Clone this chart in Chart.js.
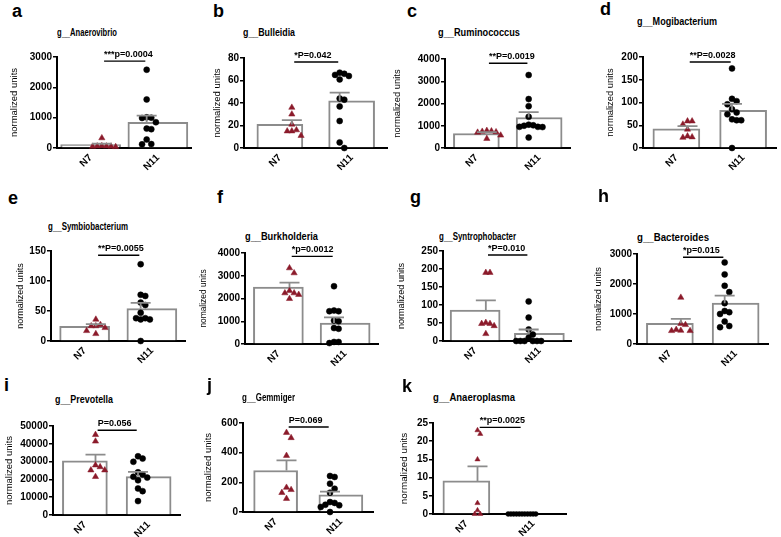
<!DOCTYPE html>
<html><head><meta charset="utf-8">
<script src="https://cdn.jsdelivr.net/npm/chart.js@4.4.0/dist/chart.umd.min.js"></script>
<style>
html,body{margin:0;padding:0;background:#fff;}
body{width:781px;height:537px;position:relative;overflow:hidden;font-family:"Liberation Sans",Arial,sans-serif;}
canvas{position:absolute;}
.lt{position:absolute;font-weight:bold;line-height:1;color:#000;white-space:nowrap;transform-origin:0 0;}
</style></head><body>
<script>
// ---------------- DATA ----------------
const groups = ['N7', 'N11'];
const panelLetters = ['a','b','c','d','e','f','g','h','i','j','k'];
const genusTitles = ['g__Anaerovibrio','g__Bulleidia','g__Ruminococcus','g__Mogibacterium','g__Symbiobacterium','g__Burkholderia','g__Syntrophobacter','g__Bacteroides','g__Prevotella','g__Gemmiger','g__Anaeroplasma'];
const yAxisTitles = ['normalized units','normalized units','normalized units','normalized units','normalized units','nomalized units','normalized units','nomalized units','normalized units','normalized units','normalized units'];
const pValueLabels = ['***p=0.0004','*P=0.042','**P=0.0019','**P=0.0028','**P=0.0055','*p=0.0012','*P=0.010','*p=0.015','P=0.056','P=0.069','**p=0.0025'];
const yMaxValues = [3000, 80, 4000, 200, 150, 4000, 250, 3000, 50000, 600, 25];
const yStepValues = [1000, 20, 1000, 50, 50, 1000, 50, 1000, 10000, 200, 5];
const meanN7 = [110, 21, 650, 42, 24.5, 2500, 86, 690, 30400, 280, 9.1];
const semN7  = [35, 3.7, 60, 6, 3.5, 200, 27, 150, 3500, 68, 4];
const meanN11 = [850, 42, 1370, 83, 54, 920, 21, 1360, 21600, 115, 0];
const semN11  = [220, 7.2, 240, 14, 9.5, 250, 11, 250, 2600, 23, 0];
const sigLevel = [2865, 76.4, 3810, 189, 143, 3850, 239, 2890, 47600, 573, 23.8];
const pointsN7 = [
  [330, 60, 50, 70, 40, 60, 55],
  [36, 30, 21, 15, 16, 15, 11],
  [720, 760, 700, 780, 740, 570, 420],
  [59, 59, 52, 41, 26, 23, 24],
  [36, 27, 25, 25, 22, 17, 12],
  [3340, 3120, 2340, 2240, 2240, 2170, 1990],
  [190, 190, 51, 48, 42, 48, 20],
  [1550, 680, 640, 450, 440, 440, 480],
  [45100, 41400, 28000, 27000, 25200, 25200, 21500],
  [535, 500, 380, 165, 150, 130, 90],
  [23, 22, 15, 3, 1, 0, 0]
];
const pointsN11 = [
  [2580, 1600, 1000, 1010, 990, 850, 640, 620, 280, 130, 120],
  [67, 66, 64, 65, 61, 44, 43, 37, 24, 5, 0],
  [3280, 2200, 1880, 1400, 1050, 950, 950, 940, 1020, 1000, 470],
  [175, 103, 108, 96, 74, 78, 85, 61, 61, 63, 0],
  [128, 77, 75, 64, 60, 47, 38, 38, 36, 36, 0],
  [2540, 1440, 1470, 1440, 1030, 1000, 700, 670, 90, 40, 90],
  [110, 65, 32, 18, 9, 0, 0, 0, 0, 0, 0],
  [2720, 2320, 1940, 1730, 1360, 1060, 1100, 1000, 750, 560, 600],
  [33000, 31700, 29900, 24000, 22800, 21500, 21000, 19500, 14900, 13400, 7800],
  [243, 236, 191, 157, 130, 61, 45, 49, 67, 34, 0],
  [0, 0, 0, 0, 0, 0, 0, 0, 0, 0, 0]
];

// ---------------- LAYOUT / STYLE ----------------
const boxes = [
  [57, 57, 148, 193], [244, 58, 148, 389], [445, 59, 148, 572], [643, 57, 148, 778],
  [51, 251, 341, 187], [245, 253, 344, 380], [443, 251, 341, 573], [637, 254, 344, 770],
  [53, 426, 515, 182], [243, 423, 512, 375], [433, 423, 514, 568]
];
const yAxisBoxW = [52, 36, 57, 42, 40, 50, 51, 48, 53, 44, 39];
const barThick = [60, 46, 46, 47, 50, 50, 50, 47, 45, 44, 47];
const letterPos = [[12,17],[213,17],[407,17],[600,15],[8,204],[217,203],[410,203],[598,202],[4,391],[207,391],[402,392]];
const titlePos = [[57,36],[243,36],[438,36],[637,25],[48,230],[245,240],[439,240],[637,241],[55,403],[242,401],[433,401]];
const titleWidth = [60, 52, 82, 80, 80, 73, 77, 72, 58, 53, 82];
const yTitleSize = [9.5,9.5,9.4,9.4,9,8.4,9.1,9.2,9.5,9.5,9.8];
const ptRadius = [3,3,3,3,3,3,3,3,3,3,2.4];
const swarmStep = [7,7,7,7,7,7,6.3,7,7,7,4.2];

const FONT = '"Liberation Sans", Arial, sans-serif';
const GRAY = '#8c8c8c';
const RED = '#8b1a2a';
Chart.defaults.font.family = FONT;
Chart.defaults.color = '#000';

const measureCtx = document.createElement('canvas').getContext('2d');
function addText(txt, x, baseline, size, targetW){
  const d = document.createElement('div');
  d.className = 'lt';
  d.textContent = txt;
  d.style.fontSize = size + 'px';
  d.style.left = x + 'px';
  d.style.top = (baseline - 0.8465 * size) + 'px';
  if (targetW) {
    measureCtx.font = 'bold ' + size + 'px ' + FONT;
    const w = measureCtx.measureText(txt).width;
    d.style.transform = 'scaleX(' + (targetW / w).toFixed(3) + ')';
  }
  document.body.appendChild(d);
}

// deterministic beeswarm (pixel-space collision avoidance)
function swarm(vals, center, ymax, plotH, catW, step){
  const pyU = plotH / ymax;
  const minD = step * 0.9;
  const order = vals.map((v, i) => i).sort((a, b) => vals[b] - vals[a]);
  const placed = [];
  const out = new Array(vals.length);
  for (const i of order) {
    const py = vals[i] * pyU;
    for (let k = 0; k < 60; k++) {
      const off = (k === 0 ? 0 : (k % 2 ? 1 : -1) * Math.ceil(k / 2)) * step;
      if (placed.every(p => Math.hypot(p.x - off, p.y - py) >= minD)) {
        placed.push({x: off, y: py});
        out[i] = {x: center + off / catW, y: vals[i]};
        break;
      }
    }
  }
  return out;
}

panelLetters.forEach((letter, i) => {
  addText(letter, letterPos[i][0], letterPos[i][1], 18);
  addText(genusTitles[i], titlePos[i][0], titlePos[i][1], 10, titleWidth[i]);

  const [L, T, B, R] = boxes[i];
  const W = yAxisBoxW[i];
  const padTop = 25, padRight = 3, xH = 32;
  const cv = document.createElement('canvas');
  const cw = R - L + W + padRight, ch = B - T + padTop + xH;
  cv.width = cw; cv.height = ch;
  cv.style.left = (L - W) + 'px';
  cv.style.top = (T - padTop) + 'px';
  cv.style.width = cw + 'px'; cv.style.height = ch + 'px';
  document.body.appendChild(cv);

  const plotH = B - T, catW = (R - L) / 2;
  const s7 = swarm(pointsN7[i], 0, yMaxValues[i], plotH, catW, swarmStep[i]);
  const s11 = swarm(pointsN11[i], 1, yMaxValues[i], plotH, catW, swarmStep[i]);
  const means = [meanN7[i], meanN11[i]];
  const sems = [semN7[i], semN11[i]];

  const annot = {
    id: 'annot' + i,
    afterDatasetsDraw(chart) {
      const ctx = chart.ctx, xs = chart.scales.xs, y = chart.scales.y;
      ctx.save();
      ctx.strokeStyle = GRAY; ctx.lineWidth = 1.8;
      means.forEach((m, g) => {
        if (sems[g] <= 0) return;
        const x = xs.getPixelForValue(g);
        const y0 = y.getPixelForValue(m), y1 = y.getPixelForValue(m + sems[g]);
        ctx.beginPath();
        ctx.moveTo(x, y0); ctx.lineTo(x, y1);
        ctx.moveTo(x - 10, y1); ctx.lineTo(x + 10, y1);
        ctx.stroke();
      });
      const yy = y.getPixelForValue(sigLevel[i]);
      const x0 = xs.getPixelForValue(0.05), x1 = xs.getPixelForValue(0.97);
      ctx.strokeStyle = '#000'; ctx.lineWidth = 1.4;
      ctx.beginPath(); ctx.moveTo(x0, yy); ctx.lineTo(x1, yy); ctx.stroke();
      ctx.fillStyle = '#000';
      ctx.font = 'bold 9px ' + FONT;
      ctx.textBaseline = 'alphabetic'; ctx.textAlign = 'left';
      ctx.fillText(pValueLabels[i], x0, yy - 4);
      ctx.restore();
    }
  };

  new Chart(cv, {
    type: 'bar',
    data: {
      labels: groups,
      datasets: [
        { type: 'bar', data: means, xAxisID: 'x', yAxisID: 'y', backgroundColor: '#fff',
          borderColor: GRAY, borderWidth: 2, grouped: false, barPercentage: 1, categoryPercentage: 1,
          maxBarThickness: barThick[i], order: 5 },
        { type: 'scatter', data: s7, xAxisID: 'xs', yAxisID: 'y', pointStyle: 'triangle',
          pointRadius: ptRadius[i] + 0.6, backgroundColor: RED, borderColor: RED, borderWidth: 0.5, order: 0, clip: false },
        { type: 'scatter', data: s11, xAxisID: 'xs', yAxisID: 'y', pointStyle: 'circle',
          pointRadius: ptRadius[i], backgroundColor: '#000', borderColor: '#000', borderWidth: 0.5, order: 0, clip: false }
      ]
    },
    options: {
      responsive: false, animation: false, devicePixelRatio: 1,
      layout: { padding: { top: padTop, right: padRight, left: 0, bottom: 0 } },
      plugins: { legend: { display: false }, tooltip: { enabled: false } },
      scales: {
        x: {
          type: 'category', offset: true,
          afterFit: s => { s.height = xH; },
          grid: { display: false, drawTicks: false },
          border: { display: true, color: '#000', width: 2 },
          ticks: { font: { size: 10, weight: 'bold' }, color: '#000', minRotation: 45, maxRotation: 45, padding: 4 }
        },
        xs: { type: 'linear', min: -0.5, max: 1.5, display: false },
        y: {
          min: 0, max: yMaxValues[i],
          afterFit: s => { s.width = W; },
          grid: { drawOnChartArea: false, drawTicks: true, tickLength: 4, color: '#000', lineWidth: 1.5 },
          border: { display: true, color: '#000', width: 2 },
          ticks: { stepSize: yStepValues[i], font: { size: 10, weight: 'bold' }, color: '#000', padding: 1,
                   callback: v => String(v) },
          title: { display: true, text: yAxisTitles[i], font: { size: yTitleSize[i] }, color: '#000' }
        }
      }
    },
    plugins: [annot]
  });
});
</script>
</body></html>
